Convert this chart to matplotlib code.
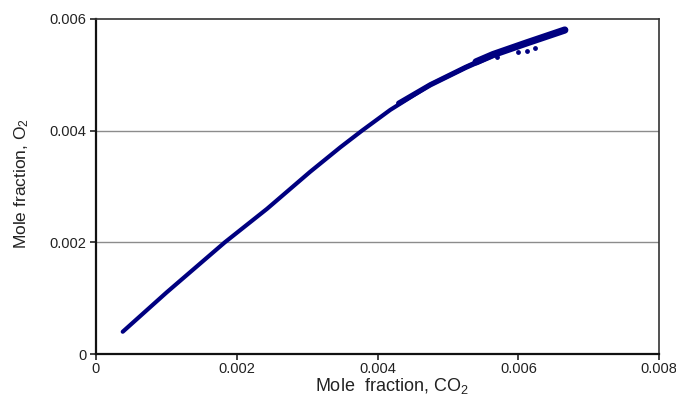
import matplotlib
matplotlib.use("Agg")
import matplotlib.pyplot as plt

plt.rcParams['font.family'] = ['Liberation Sans', 'DejaVu Sans']
plt.rcParams['mathtext.fontset'] = 'custom'
plt.rcParams['mathtext.rm'] = 'Liberation Sans'
plt.rcParams['mathtext.it'] = 'Liberation Sans'

# main trace
co2 = [0.00038, 0.00100, 0.00183, 0.00243, 0.00304, 0.00347, 0.00378,
       0.00418, 0.00475, 0.00525, 0.00564, 0.00612, 0.00666]
o2 = [0.00040, 0.00110, 0.00200, 0.00260, 0.00326, 0.00370, 0.00400,
      0.00437, 0.00482, 0.00513, 0.00535, 0.00556, 0.00580]

# the trace gets noisier (wider) towards the top
mid_co2 = [0.00430, 0.00475, 0.00525, 0.00564]
mid_o2 = [0.00449, 0.00482, 0.00513, 0.00535]
band_co2 = [0.00540, 0.00564, 0.00612, 0.00666]
band_o2 = [0.00523, 0.00536, 0.00557, 0.00580]

# a few stray points just under the band
stray_co2 = [0.00570, 0.00600, 0.00612, 0.00624]
stray_o2 = [0.00532, 0.00541, 0.00543, 0.00547]

x_ticks = [0, 0.002, 0.004, 0.006, 0.008]
x_labels = ['0', '0.002', '0.004', '0.006', '0.008']
y_ticks = [0, 0.002, 0.004, 0.006]
y_labels = ['0', '0.002', '0.004', '0.006']

fig = plt.figure(figsize=(6.76, 4.01), dpi=100)
ax = fig.add_axes([0.142, 0.117, 0.833, 0.836])

for y in y_ticks[1:-1]:
    ax.axhline(y, color='#8c8c8c', lw=1.0, zorder=1)

navy = '#000080'
ax.plot(co2, o2, color=navy, lw=3.0, solid_capstyle='round', zorder=3)
ax.plot(mid_co2, mid_o2, color=navy, lw=3.8, solid_capstyle='round', zorder=3)
ax.plot(band_co2, band_o2, color=navy, lw=5.2, solid_capstyle='round', zorder=3)
ax.scatter(stray_co2, stray_o2, color=navy, s=6, zorder=3)

ax.set_xlim(0, 0.008)
ax.set_ylim(0, 0.006)
ax.set_xticks(x_ticks)
ax.set_xticklabels(x_labels)
ax.set_yticks(y_ticks)
ax.set_yticklabels(y_labels)
ax.tick_params(direction='out', length=4, width=1.2, labelsize=10.5, pad=3,
               colors='#222222')
ax.tick_params(axis='x', pad=2)

for side in ['left', 'bottom']:
    ax.spines[side].set_linewidth(1.6)
    ax.spines[side].set_color('#111111')
for side in ['top', 'right']:
    ax.spines[side].set_linewidth(1.2)
    ax.spines[side].set_color('#333333')

ax.set_xlabel('Mole  fraction, CO$_2$', fontsize=13, color='#222222')
ax.set_ylabel('Mole fraction, O$_2$', fontsize=12.5, color='#222222')
ax.xaxis.set_label_coords(0.526, -0.064)
ax.yaxis.set_label_coords(-0.116, 0.51)

fig.savefig('out.png', dpi=100)
